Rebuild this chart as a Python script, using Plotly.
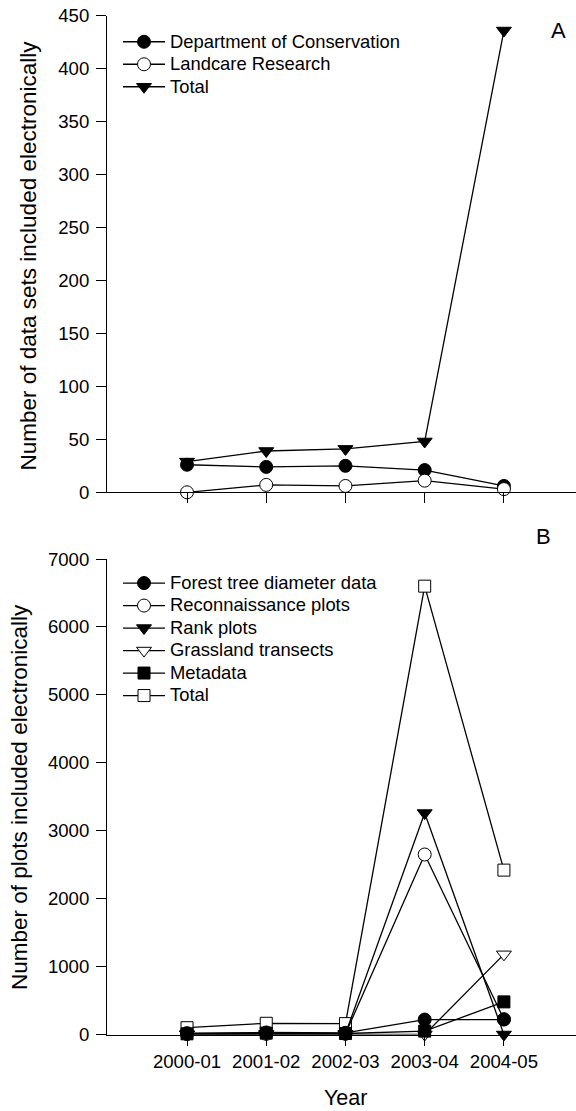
import plotly.graph_objects as go

years = ["2000-01", "2001-02", "2002-03", "2003-04", "2004-05"]

# Panel A: number of data sets included electronically
doc = [26, 24, 25, 21, 6]
landcare = [0, 7, 6, 11, 3]
total_a = [29, 39, 41, 48, 436]

# Panel B: number of plots included electronically
forest = [20, 30, 25, 220, 220]
recon = [5, 10, 10, 2650, 225]
rank = [5, 10, 10, 3260, 0]
grass = [0, 0, 0, 0, 1180]
meta = [10, 20, 15, 50, 480]
total_b = [100, 165, 160, 6600, 2420]

W, H = 576, 1111
FONT = "Arial, Liberation Sans, sans-serif"
xi = list(range(len(years)))


def py(px):
    return 1 - px / H


def lbl(s):
    return '<span style="font-size:18.4px">' + s + '</span>'


fig = go.Figure()


def add(y, name, symbol, fill, size, xa, ya, leg, rank_):
    fig.add_trace(go.Scatter(
        x=xi, y=y, name=lbl(name), mode="lines+markers",
        line=dict(color="black", width=1.3),
        marker=dict(symbol=symbol, size=size, color=fill,
                    line=dict(color="black", width=1)),
        xaxis=xa, yaxis=ya, legend=leg, legendrank=rank_,
        cliponaxis=False, hoverinfo="skip"))


# Panel A traces
add(doc, "Department of Conservation", "circle", "black", 13, "x", "y", "legend", 1)
add(landcare, "Landcare Research", "circle", "white", 13, "x", "y", "legend", 2)
add(total_a, "Total", "triangle-down", "black", 13, "x", "y", "legend", 3)

# Panel B traces (drawing order chosen for overlap, legend order by rank)
add(total_b, "Total", "square", "white", 12, "x2", "y2", "legend2", 6)
add(grass, "Grassland transects", "triangle-down", "white", 13, "x2", "y2", "legend2", 4)
add(recon, "Reconnaissance plots", "circle", "white", 13, "x2", "y2", "legend2", 2)
add(rank, "Rank plots", "triangle-down", "black", 13, "x2", "y2", "legend2", 3)
add(meta, "Metadata", "square", "black", 12, "x2", "y2", "legend2", 5)
add(forest, "Forest tree diameter data", "circle", "black", 13, "x2", "y2", "legend2", 1)

xdom = [107 / W, 1.0]
axis_common = dict(showline=True, linecolor="black", linewidth=1,
                   ticks="outside", ticklen=10, tickwidth=1, tickcolor="black",
                   showgrid=False, zeroline=False, automargin=False,
                   tickfont=dict(family=FONT, size=18.6, color="black"))

fig.update_layout(
    width=W, height=H,
    margin=dict(l=0, r=0, t=0, b=0),
    paper_bgcolor="white", plot_bgcolor="white",
    font=dict(family=FONT, color="black"),
    xaxis=dict(domain=xdom, range=[-1.01, 4.91], tickvals=xi,
               showticklabels=False, anchor="y", **axis_common),
    yaxis=dict(domain=[py(492.3), py(15.7)], range=[0, 450],
               tickvals=list(range(0, 451, 50)), anchor="x",
               ticklabelstandoff=3, **axis_common),
    xaxis2=dict(domain=xdom, range=[-1.01, 4.91], tickvals=xi,
                ticktext=years, anchor="y2", ticklabelstandoff=0, **axis_common),
    yaxis2=dict(domain=[py(1034.5), py(559)], range=[0, 7000],
                tickvals=list(range(0, 7001, 1000)), anchor="x2",
                ticklabelstandoff=3, **axis_common),
    legend=dict(x=118 / W, xanchor="left", y=py(25.5), yanchor="top",
                bgcolor="rgba(0,0,0,0)", borderwidth=0, itemwidth=42,
                font=dict(family=FONT, size=15, color="black")),
    legend2=dict(x=118 / W, xanchor="left", y=py(566.8), yanchor="top",
                 bgcolor="rgba(0,0,0,0)", borderwidth=0, itemwidth=42,
                 font=dict(family=FONT, size=15, color="black")),
    showlegend=True,
    annotations=[
        dict(text="A", x=558 / W, y=py(30.7), xref="paper", yref="paper",
             showarrow=False, xanchor="center", yanchor="middle",
             font=dict(family=FONT, size=22, color="black")),
        dict(text="B", x=543 / W, y=py(537), xref="paper", yref="paper",
             showarrow=False, xanchor="center", yanchor="middle",
             font=dict(family=FONT, size=22, color="black")),
        dict(text="Number of data sets included electronically",
             x=28.5 / W, y=py(256), xref="paper", yref="paper", textangle=-90,
             showarrow=False, xanchor="center", yanchor="middle",
             font=dict(family=FONT, size=22.5, color="black")),
        dict(text="Number of plots included electronically",
             x=19 / W, y=py(797), xref="paper", yref="paper", textangle=-90,
             showarrow=False, xanchor="center", yanchor="middle",
             font=dict(family=FONT, size=22.5, color="black")),
        dict(text="Year", x=345 / W, y=py(1098), xref="paper", yref="paper",
             showarrow=False, xanchor="center", yanchor="middle",
             font=dict(family=FONT, size=21.5, color="black")),
    ],
)

fig.write_html("out.html",
               config={"displayModeBar": False, "staticPlot": True},
               post_script="document.body.style.margin='0px';"
                           "document.body.style.overflow='hidden';")
